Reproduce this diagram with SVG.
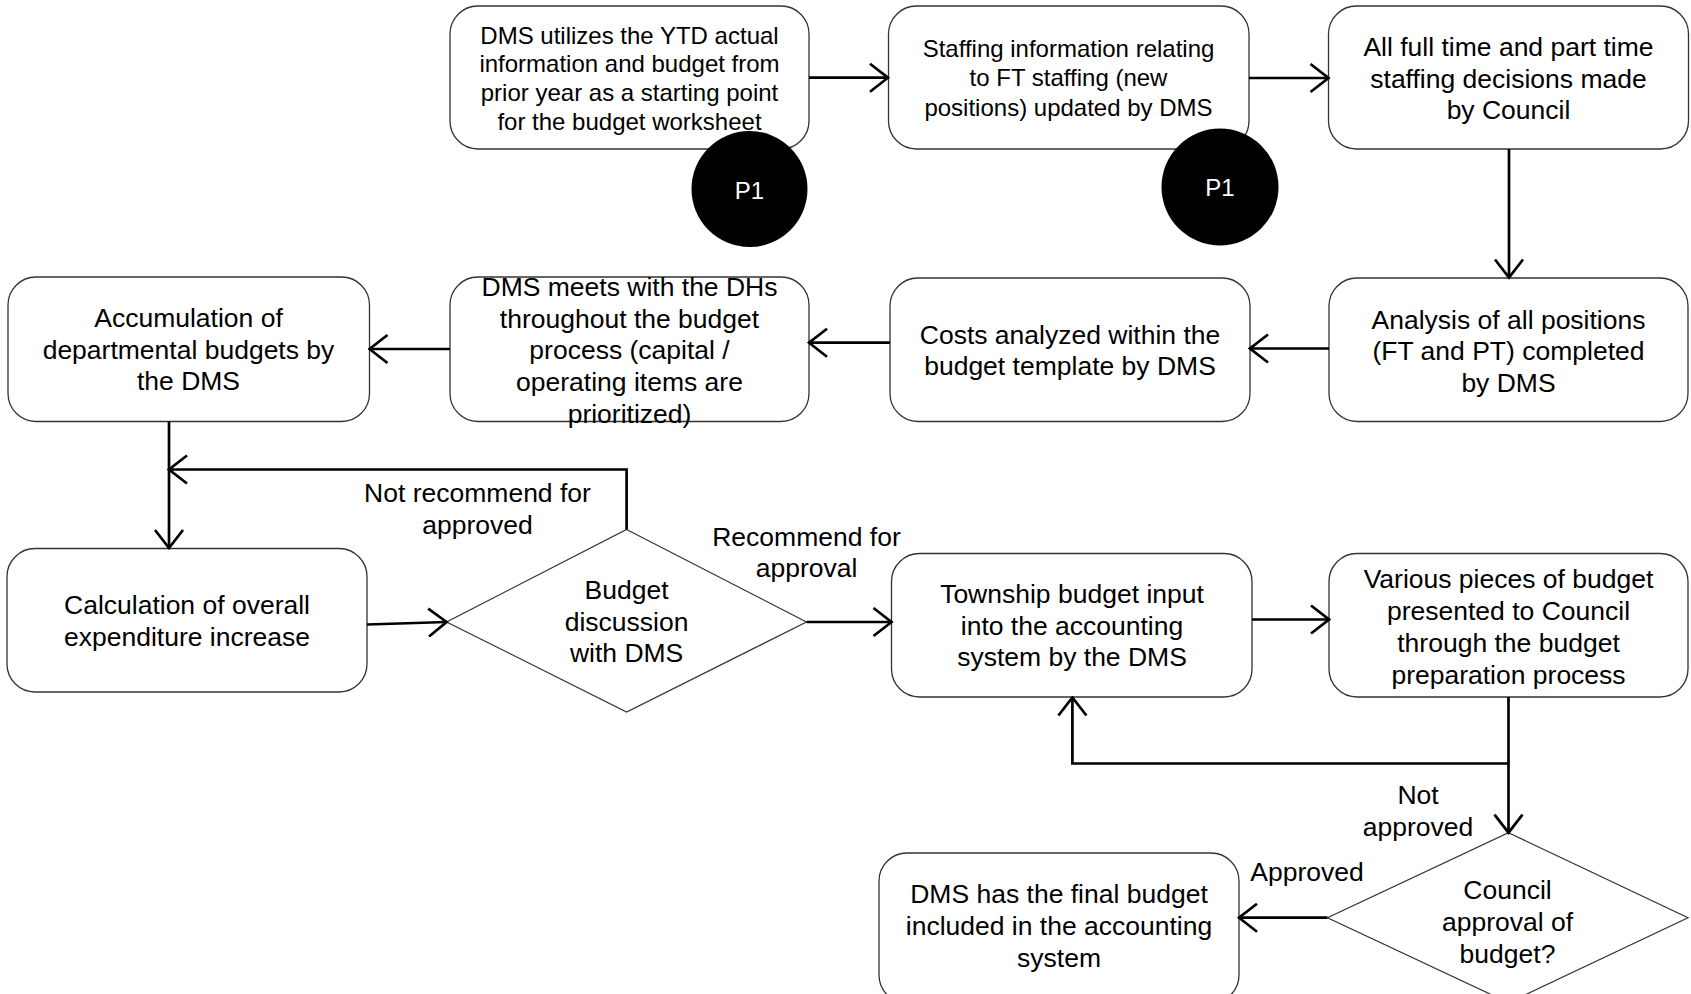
<svg xmlns="http://www.w3.org/2000/svg" width="1691" height="994" viewBox="0 0 1691 994">
  <style>
    .box { fill: #ffffff; stroke: #333333; stroke-width: 1.3; }
    .dia { fill: #ffffff; stroke: #333333; stroke-width: 1.2; }
    .conn { fill: none; stroke: #000000; stroke-width: 2.7; }
    .t { font-family: "Liberation Sans", Arial, sans-serif; font-size: 26.5px; fill: #000000; text-anchor: middle; }
    .s { font-size: 24px; }
    .pin { fill: #000000; }
    .pintxt { font-family: "Liberation Sans", Arial, sans-serif; font-size: 24px; fill: #ffffff; text-anchor: middle; }
  </style>
  <defs>
    <marker id="open" viewBox="-20 -16 22 32" markerWidth="22" markerHeight="32" refX="0" refY="0" orient="auto" markerUnits="userSpaceOnUse">
      <path d="M -18 -14 L 0 0 L -18 14" fill="none" stroke="#000000" stroke-width="2.7" stroke-linejoin="miter"/>
    </marker>
  </defs>
  <rect width="1691" height="994" fill="#ffffff"/>

  <!-- process boxes -->
  <g id="ytd-start">
    <rect class="box" x="450" y="6" width="359" height="143" rx="28"/>
    <text class="t s"><tspan x="629.5" y="43.5">DMS utilizes the YTD actual</tspan><tspan x="629.5" y="72.3">information and budget from</tspan><tspan x="629.5" y="101.1">prior year as a starting point</tspan><tspan x="629.5" y="129.9">for the budget worksheet</tspan></text>
  </g>
  <g id="staffing-info">
    <rect class="box" x="888.5" y="6" width="360.5" height="143" rx="28"/>
    <text class="t s"><tspan x="1068.5" y="57">Staffing information relating</tspan><tspan x="1068.5" y="86">to FT staffing (new</tspan><tspan x="1068.5" y="115.5">positions) updated by DMS</tspan></text>
  </g>
  <g id="council-decisions">
    <rect class="box" x="1328.5" y="6" width="360" height="143" rx="28"/>
    <text class="t"><tspan x="1508.5" y="55.5">All full time and part time</tspan><tspan x="1508.5" y="87.5">staffing decisions made</tspan><tspan x="1508.5" y="119">by Council</tspan></text>
  </g>
  <g id="pin-1">
    <circle class="pin" cx="749.5" cy="189" r="58"/>
    <text class="pintxt" x="749.5" y="199">P1</text>
  </g>
  <g id="pin-2">
    <circle class="pin" cx="1220" cy="187" r="58.5"/>
    <text class="pintxt" x="1220" y="196">P1</text>
  </g>

  <g id="analysis-positions">
    <rect class="box" x="1329" y="278" width="359" height="143.5" rx="28"/>
    <text class="t"><tspan x="1508.5" y="328.5">Analysis of all positions</tspan><tspan x="1508.5" y="360">(FT and PT) completed</tspan><tspan x="1508.5" y="391.5">by DMS</tspan></text>
  </g>
  <g id="costs-analyzed">
    <rect class="box" x="890" y="278" width="360" height="143.5" rx="28"/>
    <text class="t"><tspan x="1070" y="344">Costs analyzed within the</tspan><tspan x="1070" y="375">budget template by DMS</tspan></text>
  </g>
  <g id="dh-meetings">
    <rect class="box" x="450" y="277" width="359" height="144.5" rx="28"/>
    <text class="t"><tspan x="629.5" y="295.5">DMS meets with the DHs</tspan><tspan x="629.5" y="327.5">throughout the budget</tspan><tspan x="629.5" y="359">process (capital /</tspan><tspan x="629.5" y="391">operating items are</tspan><tspan x="629.5" y="422.5">prioritized)</tspan></text>
  </g>
  <g id="accumulation">
    <rect class="box" x="8" y="277" width="361.5" height="144.5" rx="28"/>
    <text class="t"><tspan x="188.5" y="326.5">Accumulation of</tspan><tspan x="188.5" y="358.5">departmental budgets by</tspan><tspan x="188.5" y="390">the DMS</tspan></text>
  </g>

  <g id="expenditure-calc">
    <rect class="box" x="7" y="548.5" width="360" height="143.5" rx="28"/>
    <text class="t"><tspan x="187" y="613.5">Calculation of overall</tspan><tspan x="187" y="645.5">expenditure increase</tspan></text>
  </g>
  <g id="budget-discussion">
    <polygon class="dia" points="626.6,529.5 806.5,622 626.6,712 446.6,622"/>
    <text class="t"><tspan x="626.6" y="598.5">Budget</tspan><tspan x="626.6" y="630.5">discussion</tspan><tspan x="626.6" y="662">with DMS</tspan></text>
  </g>
  <g id="township-input">
    <rect class="box" x="891.5" y="553.5" width="360.5" height="143.5" rx="28"/>
    <text class="t"><tspan x="1072" y="602.5">Township budget input</tspan><tspan x="1072" y="634.5">into the accounting</tspan><tspan x="1072" y="666">system by the DMS</tspan></text>
  </g>
  <g id="council-presentation">
    <rect class="box" x="1329" y="553.5" width="359" height="143.5" rx="28"/>
    <text class="t"><tspan x="1508.5" y="587.5">Various pieces of budget</tspan><tspan x="1508.5" y="619.5">presented to Council</tspan><tspan x="1508.5" y="651.5">through the budget</tspan><tspan x="1508.5" y="683.5">preparation process</tspan></text>
  </g>
  <g id="council-approval">
    <polygon class="dia" points="1508.5,832.7 1688,917.7 1508.5,1002.7 1327.5,917.7"/>
    <text class="t"><tspan x="1507.5" y="898.5">Council</tspan><tspan x="1507.5" y="930.5">approval of</tspan><tspan x="1507.5" y="962.5">budget?</tspan></text>
  </g>
  <g id="final-budget">
    <rect class="box" x="879" y="853" width="360" height="150" rx="28"/>
    <text class="t"><tspan x="1059" y="902.5">DMS has the final budget</tspan><tspan x="1059" y="934.5">included in the accounting</tspan><tspan x="1059" y="966.5">system</tspan></text>
  </g>

  <!-- connectors -->
  <g id="connectors">
    <path class="conn" d="M 809 77.7 H 888" marker-end="url(#open)"/>
    <path class="conn" d="M 1249 78 H 1328.5" marker-end="url(#open)"/>
    <path class="conn" d="M 1509 149 V 277.5" marker-end="url(#open)"/>
    <path class="conn" d="M 1329 348.5 H 1250" marker-end="url(#open)"/>
    <path class="conn" d="M 890 342.7 H 809" marker-end="url(#open)"/>
    <path class="conn" d="M 450 349 H 369.5" marker-end="url(#open)"/>
    <path class="conn" d="M 169 421.5 V 548" marker-end="url(#open)"/>
    <path class="conn" d="M 626.6 529.5 V 469.5 H 169" marker-end="url(#open)"/>
    <path class="conn" d="M 367 624.5 L 446.6 622" marker-end="url(#open)"/>
    <path class="conn" d="M 806.5 622 H 891.5" marker-end="url(#open)"/>
    <path class="conn" d="M 1252 619.5 H 1329" marker-end="url(#open)"/>
    <path class="conn" d="M 1508.5 697 V 832.7" marker-end="url(#open)"/>
    <path class="conn" d="M 1508.5 763.5 H 1072.4 V 697.5" marker-end="url(#open)"/>
    <path class="conn" d="M 1327.5 917.7 H 1239" marker-end="url(#open)"/>
    <text class="t"><tspan x="477.5" y="501.5">Not recommend for</tspan><tspan x="477.5" y="533.5">approved</tspan></text>
    <text class="t"><tspan x="806.5" y="545.5">Recommend for</tspan><tspan x="806.5" y="577">approval</tspan></text>
    <text class="t"><tspan x="1418" y="803.5">Not</tspan><tspan x="1418" y="835.5">approved</tspan></text>
    <text class="t" x="1307" y="881">Approved</text>
  </g>
</svg>
